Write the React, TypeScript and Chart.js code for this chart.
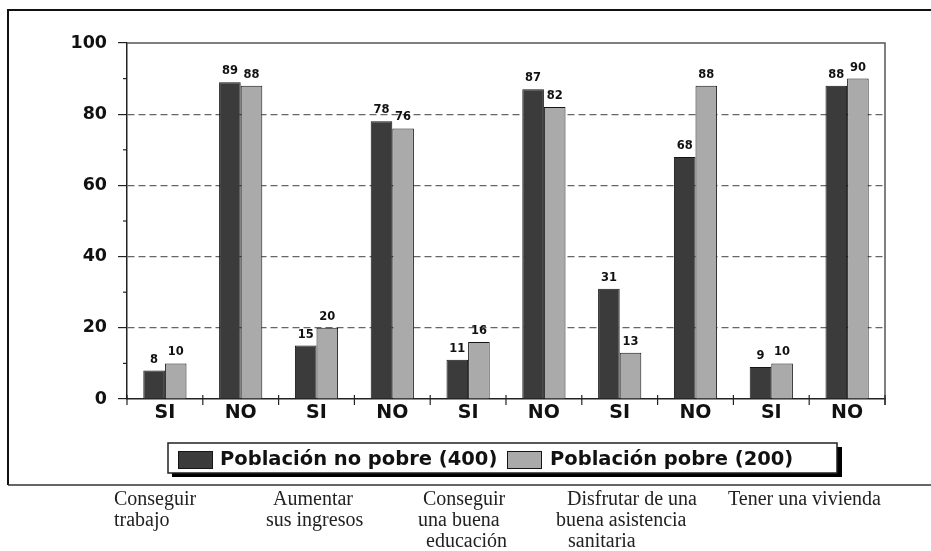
import React, { useEffect, useRef } from 'react';
import { Chart, registerables } from 'chart.js';

Chart.register(...registerables);

// ---- data ----
const categories = ['SI', 'NO', 'SI', 'NO', 'SI', 'NO', 'SI', 'NO', 'SI', 'NO'];
const noPobreValues = [8, 89, 15, 78, 11, 87, 31, 68, 9, 88];
const pobreValues = [10, 88, 20, 76, 16, 82, 13, 88, 10, 90];
const seriesNames = ['Población no pobre (400)', 'Población pobre (200)'];
const yTickValues = [0, 20, 40, 60, 80, 100];
const yMinorTickValues = [10, 30, 50, 70, 90];
const groupCaptions = [
  ['Conseguir', 'trabajo'],
  ['Aumentar', 'sus ingresos'],
  ['Conseguir', 'una buena', 'educación'],
  ['Disfrutar de una', 'buena asistencia', 'sanitaria'],
  ['Tener una vivienda'],
];

// ---- layout / style ----
const captionX = [[114, 114], [273, 266], [423, 418, 426], [567, 556, 568], [728]];
const captionBaselines = [505, 526, 547];
const DARK = '#3b3b3b';
const LIGHT = '#aaaaaa';
const EDGE = '#151515';
const SANS = '"DejaVu Sans", Verdana, sans-serif';
const SERIF = '"Liberation Serif", "Times New Roman", serif';

const decorPlugin = {
  id: 'decor',
  beforeDraw(chart: any) {
    const ctx = chart.ctx;
    ctx.save();
    ctx.fillStyle = '#ffffff';
    ctx.fillRect(0, 0, chart.width, chart.height);
    // outer frame
    ctx.strokeStyle = '#111';
    ctx.lineWidth = 2;
    ctx.beginPath();
    ctx.moveTo(8, 485);
    ctx.lineTo(8, 10);
    ctx.lineTo(chart.width, 10);
    ctx.stroke();
    ctx.strokeStyle = '#333';
    ctx.lineWidth = 1.5;
    ctx.beginPath();
    ctx.moveTo(8, 485);
    ctx.lineTo(chart.width, 485);
    ctx.stroke();
    ctx.restore();
  },
  afterDatasetsDraw(chart: any) {
    const ctx = chart.ctx;
    ctx.save();
    ctx.font = `bold 11.5px ${SANS}`;
    ctx.fillStyle = '#111';
    ctx.textAlign = 'center';
    ctx.textBaseline = 'alphabetic';
    chart.data.datasets.forEach((ds: any, di: number) => {
      const meta = chart.getDatasetMeta(di);
      meta.data.forEach((bar: any, i: number) => {
        ctx.fillText(String(ds.data[i]), bar.x, bar.y - 8);
      });
    });
    ctx.restore();
  },
  afterDraw(chart: any) {
    const ctx = chart.ctx;
    const { left, right, top, bottom } = chart.chartArea;
    const xs = chart.scales.x;
    const ys = chart.scales.y;
    ctx.save();
    // plot top & right border
    ctx.strokeStyle = '#555';
    ctx.lineWidth = 1.5;
    ctx.beginPath();
    ctx.moveTo(left, top);
    ctx.lineTo(right, top);
    ctx.lineTo(right, bottom + 6);
    ctx.stroke();
    // x ticks at category boundaries
    ctx.strokeStyle = '#222';
    ctx.lineWidth = 1.2;
    for (let i = 0; i <= categories.length; i++) {
      const px = i === categories.length
        ? xs.getPixelForValue(i - 1) + (xs.getPixelForValue(1) - xs.getPixelForValue(0)) / 2
        : xs.getPixelForValue(i) - (xs.getPixelForValue(1) - xs.getPixelForValue(0)) / 2;
      ctx.beginPath();
      ctx.moveTo(px, bottom - 4);
      ctx.lineTo(px, bottom + 6);
      ctx.stroke();
    }
    // y minor ticks
    yMinorTickValues.forEach((v) => {
      const py = ys.getPixelForValue(v);
      ctx.beginPath();
      ctx.moveTo(left - 4, py);
      ctx.lineTo(left, py);
      ctx.stroke();
    });

    // legend
    const lx = 168, ly = 443, lw = 669, lh = 30;
    ctx.fillStyle = '#000';
    ctx.fillRect(lx + 4, ly + lh, lw, 4);
    ctx.fillRect(lx + lw, ly + 4, 5, lh);
    ctx.fillStyle = '#fff';
    ctx.fillRect(lx, ly, lw, lh);
    ctx.strokeStyle = '#222';
    ctx.lineWidth = 1.5;
    ctx.strokeRect(lx, ly, lw, lh);
    const swatchX = [178, 507];
    const textX = [220, 550];
    const colors = [DARK, LIGHT];
    ctx.font = `bold 19.5px ${SANS}`;
    ctx.textAlign = 'left';
    ctx.textBaseline = 'middle';
    seriesNames.forEach((name, i) => {
      ctx.fillStyle = colors[i];
      ctx.fillRect(swatchX[i], 451, 34, 17);
      ctx.strokeStyle = EDGE;
      ctx.lineWidth = 1;
      ctx.strokeRect(swatchX[i] + 0.5, 451.5, 34, 17);
      ctx.fillStyle = '#111';
      ctx.fillText(name, textX[i], 460);
    });

    // group captions
    ctx.font = `20px ${SERIF}`;
    ctx.fillStyle = '#222';
    ctx.textBaseline = 'alphabetic';
    groupCaptions.forEach((lines, g) => {
      lines.forEach((line, li) => {
        ctx.fillText(line, captionX[g][li], captionBaselines[li]);
      });
    });
    ctx.restore();
  },
};

export default function App() {
  const canvasRef = useRef<HTMLCanvasElement | null>(null);

  useEffect(() => {
    if (!canvasRef.current) return;
    const chart = new Chart(canvasRef.current, {
      type: 'bar',
      data: {
        labels: categories,
        datasets: [
          {
            label: seriesNames[0],
            data: noPobreValues,
            backgroundColor: DARK,
            borderColor: EDGE,
            borderWidth: 1,
            categoryPercentage: 0.57,
            barPercentage: 1,
          },
          {
            label: seriesNames[1],
            data: pobreValues,
            backgroundColor: LIGHT,
            borderColor: EDGE,
            borderWidth: 1,
            categoryPercentage: 0.57,
            barPercentage: 1,
          },
        ],
      },
      options: {
        responsive: false,
        animation: false,
        layout: { padding: { left: 0, right: 46, top: 43, bottom: 122 } },
        plugins: {
          legend: { display: false },
          tooltip: { enabled: false },
          title: { display: false },
        },
        scales: {
          x: {
            grid: { display: false, drawTicks: false },
            border: { display: true, color: '#222', width: 1.5 },
            ticks: {
              color: '#111',
              padding: 3,
              font: { family: SANS, weight: 'bold', size: 19 },
            },
            afterFit: (s: any) => { s.height = 30; },
          },
          y: {
            min: 0,
            max: 100,
            afterBuildTicks: (s: any) => { s.ticks = yTickValues.map((v) => ({ value: v })); },
            grid: {
              color: (c: any) => (c.tick && (c.tick.value === 0 || c.tick.value === 100) ? 'rgba(0,0,0,0)' : '#666'),
              lineWidth: 1.2,
              tickColor: '#222',
              tickLength: 9,
              tickWidth: 1.2,
            },
            border: { display: true, color: '#222', width: 1.5, dash: [7, 4] },
            ticks: {
              color: '#111',
              padding: 11,
              font: { family: SANS, weight: 'bold', size: 17.5 },
            },
            afterFit: (s: any) => { s.width = 127; },
          },
        },
      },
      plugins: [decorPlugin],
    } as any);
    return () => chart.destroy();
  }, []);

  return (
    <div style={{ position: 'absolute', left: 0, top: 0, width: 931, height: 551, overflow: 'hidden' }}>
      <canvas ref={canvasRef} width={931} height={551} style={{ display: 'block' }} />
    </div>
  );
}
